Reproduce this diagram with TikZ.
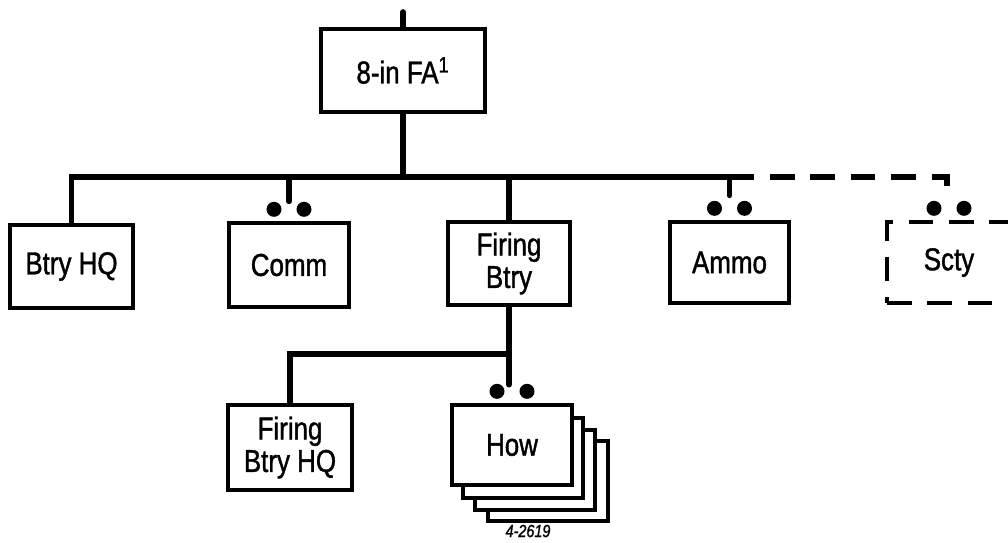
\documentclass[tikz,border=0pt]{standalone}
\usepackage{fontspec}
\setmainfont[FakeStretch=0.82, FakeBold=1.2]{Liberation Sans}
\usetikzlibrary{calc}
\tikzset{
  orgbox/.style={draw=black, line width=1.9pt, fill=white, inner sep=0pt, align=center,
    font=\fontsize{18}{18.5}\selectfont},
  orgdashbox/.style={orgbox, dash pattern=on 14pt off 9pt},
  orgbus/.style={line width=3.2pt, draw=black, line cap=round},
  orgdashbus/.style={line width=3.2pt, draw=black, dash pattern=on 14pt off 9pt},
  orgstack/.style={draw=black, line width=1.9pt, fill=white},
  orgdot/.style={fill=black},
}
\begin{document}
\begin{tikzpicture}[x=0.02cm, y=-0.02cm]
\useasboundingbox (0,0) rectangle (1008,542);
\clip (0,0) rectangle (1008,542);
\coordinate (top) at (403,12);
\coordinate (bus) at (0,177);
\coordinate (sub) at (0,354);
\node[orgbox, minimum width=164*0.02cm, minimum height=83*0.02cm] (fa) at (403,70.5) {8-in FA\textsuperscript{1}};
\node[orgbox, minimum width=123*0.02cm, minimum height=83*0.02cm] (btryhq) at (71.5,266.5) {Btry HQ};
\node[orgbox, minimum width=120*0.02cm, minimum height=84*0.02cm] (comm) at (289,265) {Comm};
\node[orgbox, minimum width=122*0.02cm, minimum height=83*0.02cm] (fbtry) at (509,263.5) {Firing\\Btry};
\node[orgbox, minimum width=119*0.02cm, minimum height=81*0.02cm] (ammo) at (729.5,262.5) {Ammo};
\node[orgdashbox, minimum width=124*0.02cm, minimum height=81*0.02cm] (scty) at (949,262.5) {Scty};
\node[orgbox, minimum width=124*0.02cm, minimum height=85*0.02cm] (fbhq) at (290,447.5) {Firing\\Btry HQ};
% stacked howitzer boxes, back to front
\foreach \dx/\dy in {36/36, 23/25, 11/13}
  \draw[orgstack] (452+\dx,405+\dy) rectangle (572+\dx,485+\dy);
\node[orgbox, minimum width=120*0.02cm, minimum height=80*0.02cm] (how) at (512,445) {How};
% lines
\draw[orgbus] (top) -- (fa.north);
\draw[orgbus] (fa.south) -- (fa.south |- bus);
\draw[orgbus] (btryhq.north) |- (ammo.north |- bus);
\draw[orgbus] (comm.north |- bus) -- ($(comm.north)+(0,-20)$);
\draw[orgbus] (fbtry.north |- bus) -- (fbtry.north);
\draw[orgbus] (ammo.north |- bus) -- ($(ammo.north)+(0,-25)$);
\draw[orgdashbus] (ammo.north |- bus) -| ($(scty.north)+(-2,-20)$);
\draw[orgbus] (fbtry.south) -- ($(fbtry.south)+(0,78)$);
\draw[orgbus] (fbtry.south |- sub) -| (fbhq.north);
% dots
\foreach \n in {comm,ammo,scty,how} {
  \fill[orgdot] ($(\n.north)+(-15,-12)$) circle[radius=0.15cm];
  \fill[orgdot] ($(\n.north)+(15,-12)$) circle[radius=0.15cm];
}
\node[font=\fontsize{10}{11}\selectfont\itshape] (fig) at (528,531) {4-2619};
\end{tikzpicture}
\end{document}
